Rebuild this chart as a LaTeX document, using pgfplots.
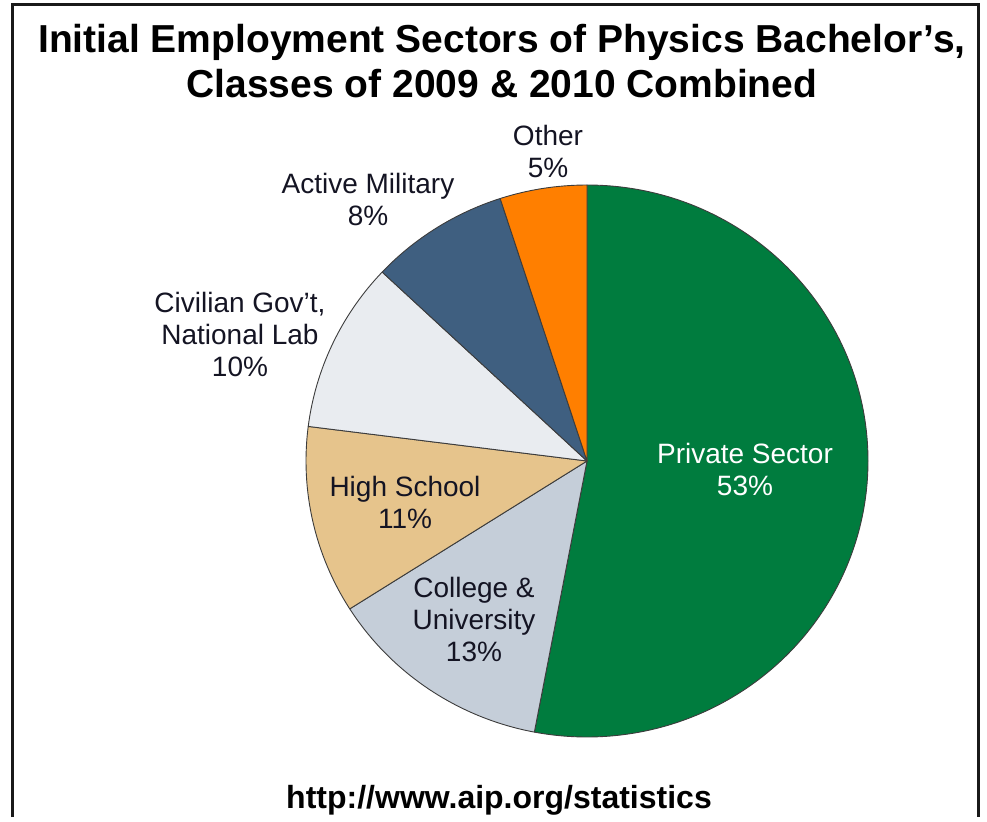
\documentclass[border=0pt]{standalone}
\usepackage{pgfplots}
\pgfplotsset{compat=1.18}
\usepackage{pgfplotstable}
\usepackage{fontspec}
\setmainfont{Liberation Sans}

\definecolor{cPriv}{RGB}{0,124,62}
\definecolor{cColl}{RGB}{197,206,217}
\definecolor{cHigh}{RGB}{230,196,140}
\definecolor{cCiv}{RGB}{233,236,240}
\definecolor{cMil}{RGB}{63,95,128}
\definecolor{cOth}{RGB}{255,127,0}
\definecolor{edge}{RGB}{60,60,60}
\definecolor{lbl}{RGB}{20,20,35}

% share of each sector, in %, clockwise from 12 o'clock
\pgfplotstableread{
pct color
53  cPriv
13  cColl
11  cHigh
10  cCiv
8   cMil
5   cOth
}\piedata

\begin{document}
\begin{tikzpicture}
\begin{axis}[
  width=493.5pt, height=408.5pt,
  scale only axis,
  xmin=0, xmax=987,
  ymin=0, ymax=817,
  y dir=reverse,
  hide axis,
  clip=false,
]
\path (axis cs:0,0) rectangle (axis cs:987,817);

% frame (no bottom edge)
\draw[black!90, line width=1.2pt] (axis cs:12.5,817) -- (axis cs:12.5,4.5) -- (axis cs:978.5,4.5) -- (axis cs:978.5,817);

% pie sectors
\xdef\cum{0}
\pgfplotsinvokeforeach{0,...,5}{
  \pgfplotstablegetelem{#1}{pct}\of\piedata
  \let\p\pgfplotsretval
  \pgfplotstablegetelem{#1}{color}\of\piedata
  \let\c\pgfplotsretval
  \pgfmathsetmacro\a{90-3.6*\cum}
  \pgfmathsetmacro\b{90-3.6*(\cum+\p)}
  \edef\cmd{\noexpand\filldraw[fill=\c, draw=edge, line width=0.45pt, line join=round]
    (axis cs:587,461) -- ++(\a:140.5pt and 138pt)
    arc[start angle=\a, end angle=\b, x radius=140.5pt, y radius=138pt] -- cycle;}
  \cmd
  \pgfmathsetmacro\n{\cum+\p}
  \xdef\cum{\n}
}

% title and source
\node[font=\fontsize{19.5}{23}\selectfont\bfseries, anchor=base] at (axis cs:502,52) {Initial Employment Sectors of Physics Bachelor’s,};
\node[font=\fontsize{19.5}{23}\selectfont\bfseries, anchor=base] at (axis cs:502,97) {Classes of 2009 \& 2010 Combined};
\node[font=\fontsize{16}{19}\selectfont\bfseries, anchor=base] at (axis cs:499,808) {http://www.aip.org/statistics};

% sector labels
\begin{scope}[every node/.style={font=\fontsize{14}{16}\selectfont, align=center, text=lbl}]
\node at (axis cs:548,151) {Other\\5\%};
\node at (axis cs:368,199) {Active Military\\8\%};
\node at (axis cs:240,334) {Civilian Gov’t,\\National Lab\\10\%};
\node at (axis cs:405,502) {High School\\11\%};
\node at (axis cs:474,619) {College \&\\University\\13\%};
\node[text=white] at (axis cs:745,469) {Private Sector\\53\%};
\end{scope}
\end{axis}
\end{tikzpicture}
\end{document}
